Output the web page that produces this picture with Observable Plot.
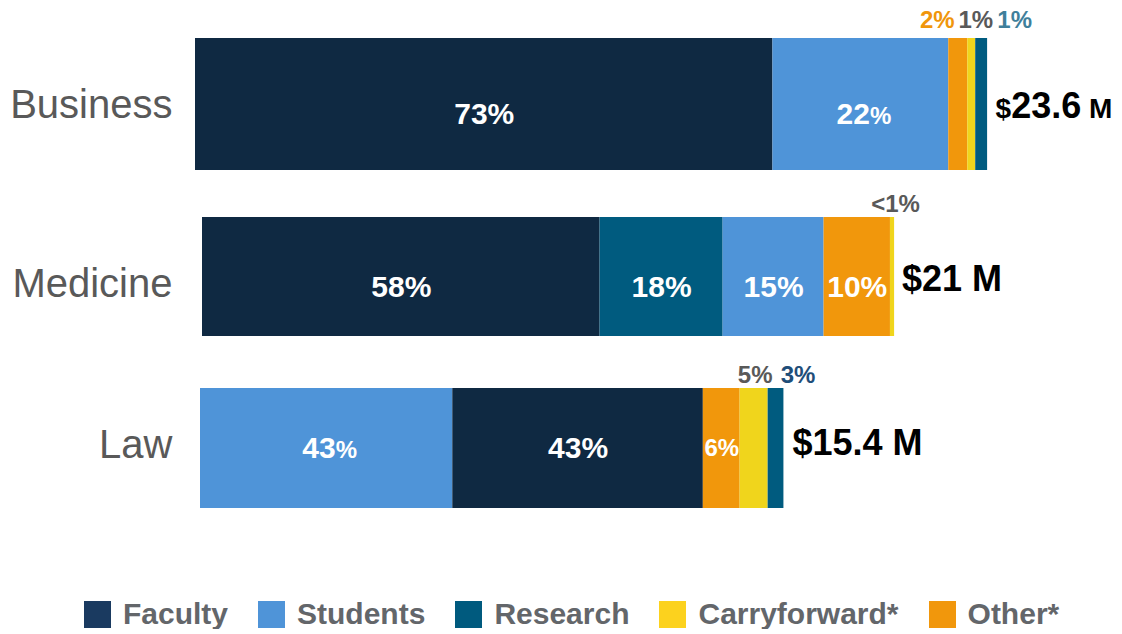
<!DOCTYPE html>
<html><head><meta charset="utf-8">
<script src="https://cdn.jsdelivr.net/npm/d3@7"></script>
<script src="https://cdn.jsdelivr.net/npm/@observablehq/plot@0.6"></script>
<style>
body{margin:0;background:#fff;font-family:"Liberation Sans",Arial,sans-serif;}
#legend{display:flex;align-items:center;margin-top:46px;padding-left:84px;height:30px;}
.item{display:flex;align-items:center;margin-right:30px;font-weight:bold;font-size:30px;color:#63666a;white-space:nowrap;}
.sw{width:27px;height:27px;margin-right:12px;flex:none;}
</style></head><body><div id="chart"></div><div id="legend"></div>
<script>
// ---- data ----
const schools = ["Business", "Medicine", "Law"];
const categories = ["Faculty", "Students", "Research", "Carryforward*", "Other*"];
const barColors = ["#0f2942", "#4f94d8", "#005b7f", "#f0d51c", "#f1970c"];
const legendColors = ["#1a3a60", "#4f94d8", "#005a7e", "#fcd21e", "#f1970c"];

const businessParts = ["Faculty", "Students", "Other*", "Carryforward*", "Research"];
const businessShares = [72.9, 22.2, 2.4, 1.0, 1.5];
const businessLabels = ["73%", "22%", "2%", "1%", "1%"];

const medicineParts = ["Faculty", "Research", "Students", "Other*", "Carryforward*"];
const medicineShares = [57.5, 17.8, 14.6, 9.6, 0.6];
const medicineLabels = ["58%", "18%", "15%", "10%", "<1%"];

const lawParts = ["Students", "Faculty", "Other*", "Carryforward*", "Research"];
const lawShares = [43.2, 42.9, 6.3, 4.8, 2.7];
const lawLabels = ["43%", "43%", "6%", "5%", "3%"];

const totalLabels = ["$23.6 M", "$21 M", "$15.4 M"];
// bar lengths as drawn in the picture, in $M of the Business bar's scale
const drawnLengths = [23.6, 20.6, 17.4];

// ---- build table ----
const partsBy = {Business: businessParts, Medicine: medicineParts, Law: lawParts};
const sharesBy = {Business: businessShares, Medicine: medicineShares, Law: lawShares};
const labelsBy = {Business: businessLabels, Medicine: medicineLabels, Law: lawLabels};
const rows = [];
schools.forEach((s, i) => {
  let acc = 0;
  partsBy[s].forEach((p, j) => {
    const amount = sharesBy[s][j] / 100 * drawnLengths[i];
    rows.push({school: s, part: p, share: sharesBy[s][j], label: labelsBy[s][j],
      x1: acc, x2: acc + amount, mid: acc + amount / 2, idx: j});
    acc += amount;
  });
});
const totals = schools.map((s, i) => ({school: s, label: totalLabels[i], end: drawnLengths[i]}));

// ---- per-bar styling ----
const layout = {
  Business: {dx: -3, insetTop: -4, insetBottom: -4, labelDy: 10, totalDy: 2, aboveDy: -84, nameDy: 1, smallPct: true,
    aboveDx: [-21, 4, 33], aboveFill: ["#f0960b", "#595959", "#3f7f9b"]},
  Medicine: {dx: 4, insetTop: 3, insetBottom: 2, labelDy: 11, totalDy: 3, aboveDy: -72, nameDy: 8, smallPct: false,
    aboveDx: [3], aboveFill: ["#595959"]},
  Law: {dx: 2, insetTop: 2, insetBottom: 2, labelDy: 0, totalDy: -5, aboveDy: -73, nameDy: -3, smallPct: true,
    aboveDx: [1, 22], aboveFill: ["#595959", "#1f4e79"]}
};
const inside = d => d.share >= 5.5;

const marks = [];
schools.forEach((s) => {
  const L = layout[s];
  const data = rows.filter(d => d.school === s);
  const isSmall = d => L.smallPct && d.part === "Students";
  marks.push(Plot.barX(data, {x1: "x1", x2: "x2", y: "school", fill: "part",
    dx: L.dx, insetTop: L.insetTop, insetBottom: L.insetBottom}));
  marks.push(Plot.text(data.filter(d => inside(d) && !isSmall(d)), {
    x: "mid", y: "school", text: "label", fill: "white", fontWeight: "bold",
    fontSize: d => d.share < 8 ? 24 : 30, dx: L.dx, dy: L.labelDy}));
  marks.push(Plot.text(data.filter(d => inside(d) && isSmall(d)), {
    x: "mid", y: "school", text: "label", fill: "white", fontWeight: "bold",
    fontSize: 30, dx: L.dx + 3, dy: L.labelDy, ariaDescription: "pct-small"}));
  data.filter(d => !inside(d)).forEach((d, k) => {
    marks.push(Plot.text([d], {x: "mid", y: "school", text: "label",
      fill: L.aboveFill[k], fontWeight: "bold", fontSize: 24,
      dx: L.dx + L.aboveDx[k], dy: L.aboveDy}));
  });
  marks.push(Plot.text(totals.filter(t => t.school === s), {x: "end", y: "school", text: "label",
    textAnchor: "start", fill: "black", fontWeight: "bold", fontSize: 36,
    dx: L.dx + 8, dy: L.totalDy, ariaDescription: "total-" + s}));
  marks.push(Plot.text([s], {x: () => 0, y: d => d, text: d => d, textAnchor: "end",
    fill: "#595959", fontSize: 40, dx: -26, dy: L.nameDy}));
});

const chart = Plot.plot({
  width: 1122, height: 553,
  marginLeft: 198, marginRight: 0, marginTop: 0, marginBottom: 0,
  style: {fontFamily: '"Liberation Sans", Arial, sans-serif', color: "#595959", background: "white", overflow: "visible"},
  x: {domain: [0, 27.53], axis: null},
  y: {domain: schools, paddingInner: 0.277, paddingOuter: 0.237, axis: null},
  color: {domain: categories, range: barColors},
  marks
});
document.getElementById("chart").appendChild(chart);

// smaller % sign on some Students labels, smaller $ and M on Business total
d3.select(chart).selectAll('g[aria-description="pct-small"] text').each(function () {
  const t = this.textContent; const num = t.replace("%", "");
  const el = d3.select(this); el.text("");
  el.append("tspan").text(num);
  el.append("tspan").attr("font-size", 24).text("%");
});
d3.select(chart).selectAll('g[aria-description="total-Business"] text').each(function () {
  const t = this.textContent; const m = t.match(/^(\$)([\d.]+)( M)$/);
  if (!m) return;
  const el = d3.select(this); el.text("");
  el.append("tspan").attr("font-size", 28).text(m[1]);
  el.append("tspan").text(m[2]);
  el.append("tspan").attr("font-size", 28).text(m[3]);
});

// legend
const leg = d3.select("#legend");
categories.forEach((c, i) => {
  const it = leg.append("div").attr("class", "item");
  it.append("div").attr("class", "sw").style("background", legendColors[i]);
  it.append("span").text(c);
});
</script></body></html>
